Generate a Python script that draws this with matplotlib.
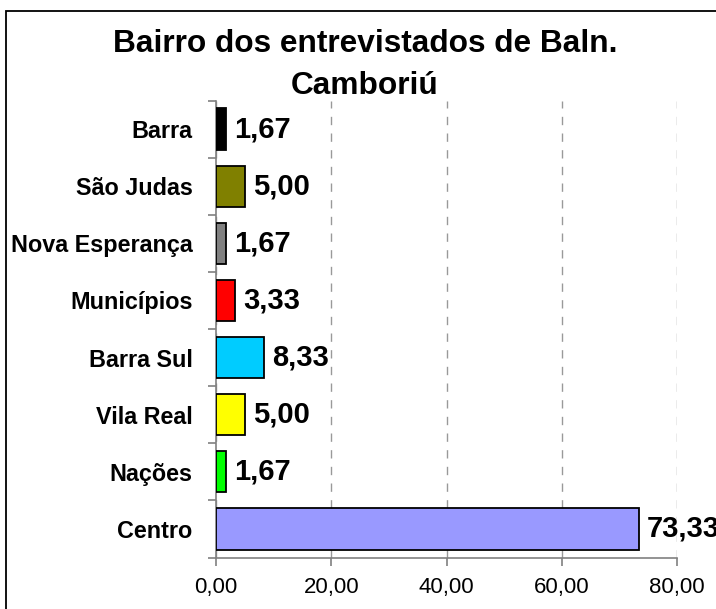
import matplotlib
matplotlib.use("Agg")
import matplotlib.pyplot as plt
from matplotlib.patches import Rectangle

categories = ["Centro", "Nações", "Vila Real", "Barra Sul", "Municípios",
              "Nova Esperança", "São Judas", "Barra"]
values = [73.33, 1.67, 5.00, 8.33, 3.33, 1.67, 5.00, 1.67]
colors = ["#9999FF", "#00FF00", "#FFFF00", "#00CCFF", "#FF0000",
          "#808080", "#808000", "#000000"]
xticks = [0, 20, 40, 60, 80]
title = "Bairro dos entrevistados de Baln.\nCamboriú"

plt.rcParams['font.family'] = ['Liberation Sans', 'DejaVu Sans']

W, H = 716, 609
fig = plt.figure(figsize=(W / 100, H / 100), dpi=100)
ax = fig.add_axes([216 / W, 1 - 557.5 / H, (677 - 216) / W, (557.5 - 100.5) / H])

ypos = list(range(len(categories)))
ax.barh(ypos, values, height=0.72, color=colors, edgecolor="black", linewidth=1.3, zorder=3)
for y, v in zip(ypos, values):
    ax.text(v + 1.45, y, f"{v:.2f}".replace(".", ","), va="center", ha="left",
            fontsize=21, fontweight="bold", zorder=4, clip_on=False)

ax.set_xlim(0, 80)
ax.set_ylim(-0.5, len(categories) - 0.5)
ax.set_xticks(xticks)
ax.set_xticklabels([f"{t:.2f}".replace(".", ",") for t in xticks], fontsize=16)
ax.set_yticks(ypos)
ax.set_yticklabels(categories, fontsize=16.8, fontweight="bold")
ax.set_yticks([y + 0.5 for y in range(-1, len(categories))], minor=True)
ax.tick_params(axis="y", which="major", length=0, pad=17)
ax.tick_params(axis="y", which="minor", length=6, color="#808080", width=1.2, direction="out")
ax.tick_params(axis="x", which="major", length=6, color="#808080", width=1.2, direction="out", pad=8)

for s in ["top", "right"]:
    ax.spines[s].set_visible(False)
for s in ["left", "bottom"]:
    ax.spines[s].set_color("#808080")
    ax.spines[s].set_linewidth(1.2)

ax.xaxis.grid(True, linestyle=(0, (6, 6)), color="#999999", linewidth=1.0, zorder=0)
ax.set_axisbelow(True)

fig.text(365 / W, 1 - 29 / H, title, ha="center", va="top", fontsize=22.8,
         fontweight="bold", linespacing=1.5)

fig.patches.append(Rectangle((6 / W, -0.1), 1.2, 1 - 11.5 / H + 0.1, transform=fig.transFigure,
                             fill=False, edgecolor="black", linewidth=1.3))

fig.savefig("out.png", dpi=100)
